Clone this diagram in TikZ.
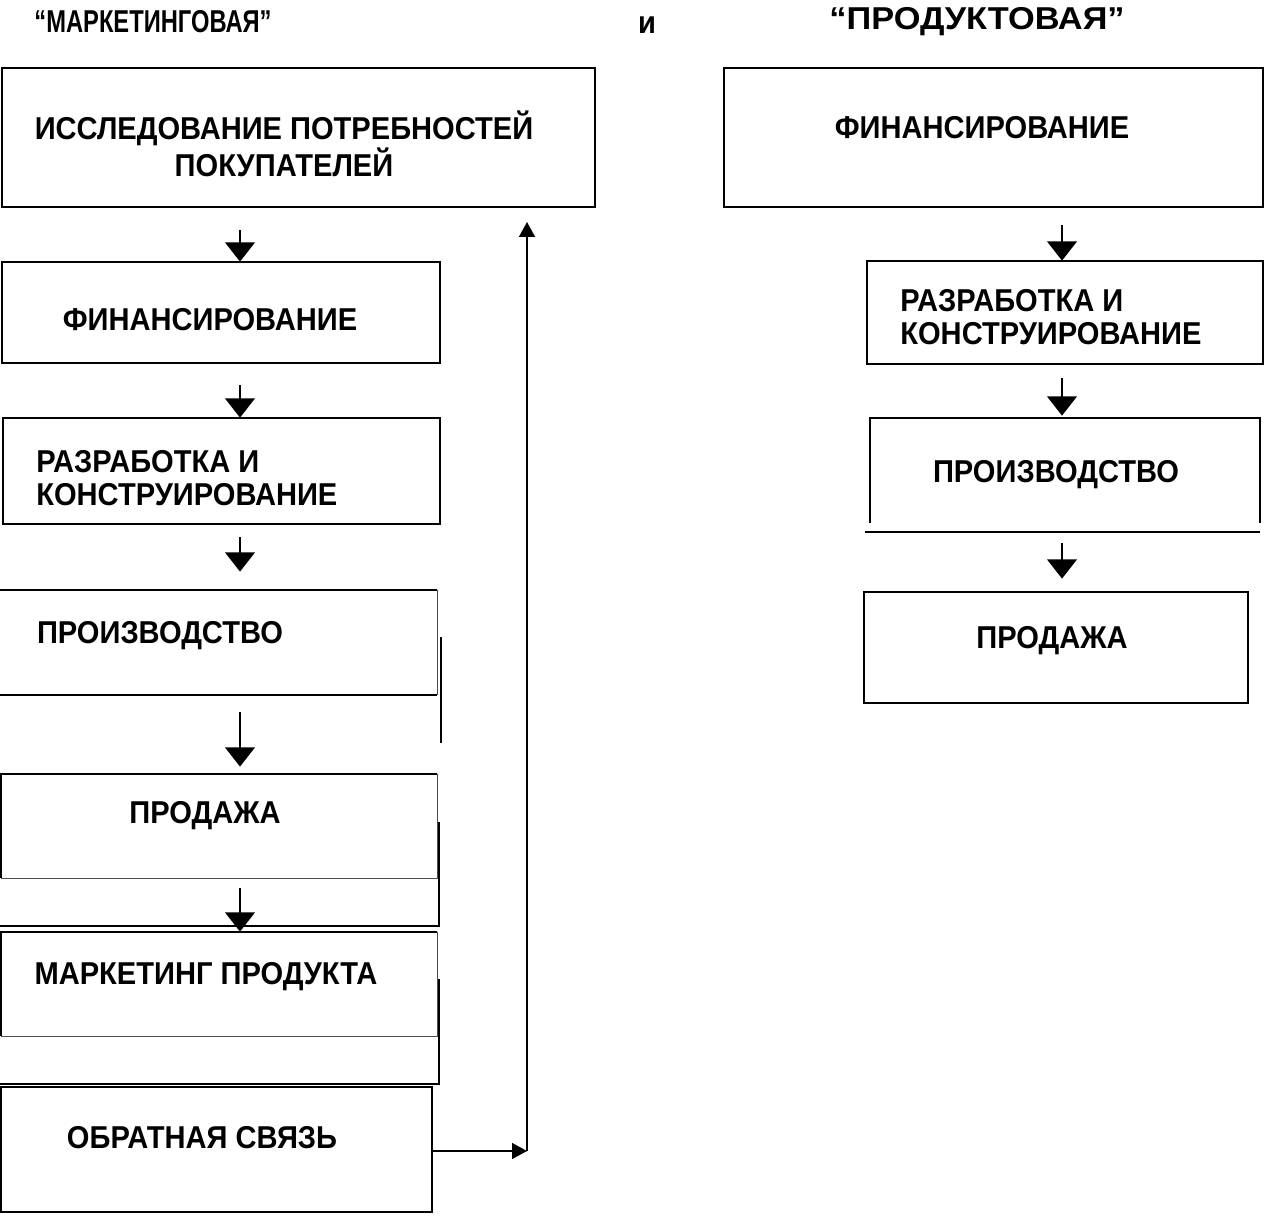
\documentclass[tikz,border=0pt]{standalone}
\usepackage{fontspec}
\setmainfont{Liberation Sans}[FakeStretch=0.92]
\usetikzlibrary{arrows.meta,fit,calc}

\tikzset{
  frame/.style={inner sep=0pt},
  edge/.style={line width=1.15pt},
  faint/.style={line width=0.6pt, black!70},
  lbl/.style={font=\bfseries\fontsize{18}{18.5}\selectfont, inner sep=0pt, align=left},
  ttl/.style={font=\bfseries\fontsize{18}{18.5}\selectfont, inner sep=0pt},
  down/.style={line width=0.8pt, -{Triangle[width=17pt,length=11pt]}},
  back/.style={line width=1.1pt, -{Triangle[width=9pt,length=8.5pt]}},
}

\begin{document}
\begin{tikzpicture}[x=0.02cm,y=-0.02cm]
    \useasboundingbox (0,0) rectangle (1264,1216);
    \coordinate (col) at (240,0);
    \coordinate (col2) at (1062,0);
    % headings
    \node[ttl] (head1) at (153,22) {\scalebox{0.815}[1]{“МАРКЕТИНГОВАЯ”}};
    \node[ttl] (head2) at (647,25) {и};
    \node[ttl] (head3) at (977,22) {\scalebox{1.18}[1]{“ПРОДУКТОВАЯ”}};
    % marketing chain
    \node[frame, fit={(2,68) (595,207)}] (mkt1) {};
    \node[frame, fit={(2,262) (440,363)}] (mkt2) {};
    \node[frame, fit={(3,418) (440,524)}] (mkt3) {};
    \node[frame, fit={(0,590) (437,695)}] (mkt4) {};
    \node[frame, fit={(1,774) (437,878)}] (mkt5) {};
    \node[frame, fit={(1,932) (437,1036)}] (mkt6) {};
    \node[frame, fit={(1,1087) (432,1212)}] (mkt7) {};
    \draw[edge] (mkt1.south west) rectangle (mkt1.north east);
    \draw[edge] (mkt2.south west) rectangle (mkt2.north east);
    \draw[edge] (mkt3.south west) rectangle (mkt3.north east);
    \draw[edge] (mkt7.south west) rectangle (mkt7.north east);
    \draw[edge] (mkt4.north west) -- (mkt4.north east);
    \draw[faint] (mkt4.north east) -- (mkt4.south east);
    \draw[edge] (mkt4.south west) -- (mkt4.south east);
    \draw[edge] (441,637) -- (441,743);
    \draw[edge] (mkt5.south west) -- (mkt5.north west) -- (mkt5.north east);
    \draw[faint] (mkt5.north east) -- (mkt5.south east) -- (mkt5.south west);
    \draw[edge] (439,822) -- (439,926) -- (0,926);
    \draw[edge] (mkt6.south west) -- (mkt6.north west) -- (mkt6.north east);
    \draw[faint] (mkt6.north east) -- (mkt6.south east) -- (mkt6.south west);
    \draw[edge] (439,979) -- (439,1084) -- (0,1084);
    \node[lbl, align=center] (mkt1t) at (284,144) {ИССЛЕДОВАНИЕ ПОТРЕБНОСТЕЙ\\ПОКУПАТЕЛЕЙ};
    \node[lbl] (mkt2t) at (210,320) {ФИНАНСИРОВАНИЕ};
    \node[lbl, anchor=west] (mkt3t) at (36,478) {РАЗРАБОТКА И\\КОНСТРУИРОВАНИЕ};
    \node[lbl] (mkt4t) at (160,636) {ПРОИЗВОДСТВО};
    \node[lbl] (mkt5t) at (205,816) {ПРОДАЖА};
    \node[lbl] (mkt6t) at (206,977) {МАРКЕТИНГ ПРОДУКТА};
    \node[lbl] (mkt7t) at (202,1138) {ОБРАТНАЯ СВЯЗЬ};
    \draw[down] ($(mkt1.south -| col)+(0,23)$) -- (mkt2.north -| col);
    \draw[down] ($(mkt2.south -| col)+(0,22)$) -- (mkt3.north -| col);
    \draw[down] ($(mkt3.south -| col)+(0,13)$) -- ($(mkt4.north -| col)+(0,-18)$);
    \draw[down] ($(mkt4.south -| col)+(0,17)$) -- ($(mkt5.north -| col)+(0,-7)$);
    \draw[down] ($(mkt5.south -| col)+(0,10)$) -- (mkt6.north -| col);
    % feedback loop
    \coordinate (fbk) at (527,1151);
    \coordinate (fbt) at (527,222);
    \draw[back] (mkt7.east |- fbk) -- (fbk);
    \draw[back] (fbk) -- (fbt);
    % product chain
    \node[frame, fit={(724,68) (1263,207)}] (prd1) {};
    \node[frame, fit={(867,261) (1263,364)}] (prd2) {};
    \node[frame, fit={(870,418) (1260,523)}] (prd3) {};
    \node[frame, fit={(864,592) (1248,703)}] (prd4) {};
    \draw[edge] (prd1.south west) rectangle (prd1.north east);
    \draw[edge] (prd2.south west) rectangle (prd2.north east);
    \draw[edge] (prd3.south west) -- (prd3.north west) -- (prd3.north east) -- (prd3.south east);
    \draw[edge] (865,532) -- (1260,532);
    \draw[edge] (prd4.south west) rectangle (prd4.north east);
    \node[lbl] (prd1t) at (982,128) {ФИНАНСИРОВАНИЕ};
    \node[lbl, anchor=west] (prd2t) at (900,317) {РАЗРАБОТКА И\\КОНСТРУИРОВАНИЕ};
    \node[lbl] (prd3t) at (1056,475) {ПРОИЗВОДСТВО};
    \node[lbl] (prd4t) at (1052,641) {ПРОДАЖА};
    \draw[down] ($(prd1.south -| col2)+(0,18)$) -- (prd2.north -| col2);
    \draw[down] ($(prd2.south -| col2)+(0,14)$) -- ($(prd3.north -| col2)+(0,-2)$);
    \draw[down] ($(prd3.south -| col2)+(0,20)$) -- ($(prd4.north -| col2)+(0,-13)$);
  \end{tikzpicture}
\end{document}
